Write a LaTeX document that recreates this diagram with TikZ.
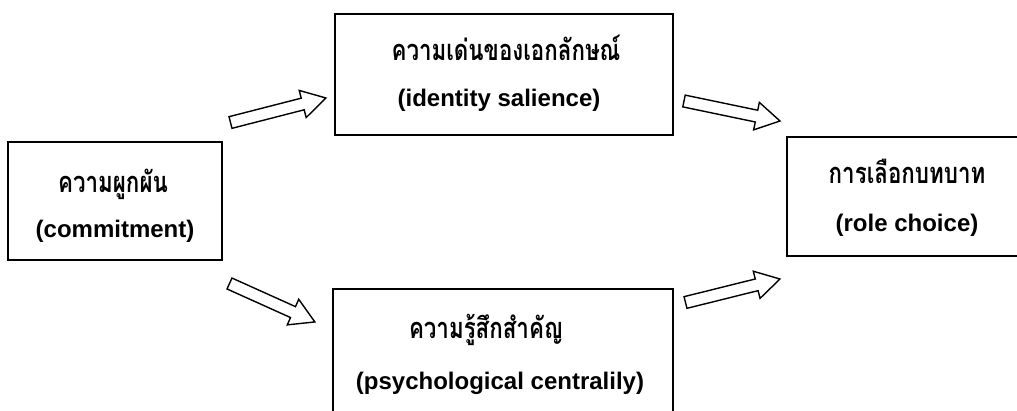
\documentclass[tikz,border=0pt]{standalone}
\usepackage{fontspec}
\setmainfont{Liberation Sans}
\newfontfamily\thaifont[Script=Thai, FakeStretch=0.77]{Loma}
\usetikzlibrary{calc}
\tikzset{
  box/.style={draw=black, line width=2.4pt, fill=white, inner sep=0pt, outer sep=0pt, anchor=north west},
  eng/.style={font=\fontsize{24}{28}\selectfont\bfseries, anchor=base, inner sep=0pt},
  th/.style={font=\fontsize{29}{33}\selectfont\thaifont\bfseries, anchor=base, inner sep=0pt},
  blockarr/.style={draw=black, line width=1.4pt, fill=white, line join=miter},
}
\newcommand\blockarrow[2]{%
  \draw[blockarr] let \p1=($(#2)-(#1)$), \n1={atan2(\y1,\x1)}, \n2={veclen(\x1,\y1)} in
    [shift={(#1)}, rotate=\n1]
    (0,-6) -- ({\n2-24},-6) -- ({\n2-24},-14) -- (\n2,0) -- ({\n2-24},14) -- ({\n2-24},6) -- (0,6) -- cycle;}
\begin{document}
\begin{tikzpicture}[x=1pt,y=-1pt]
\useasboundingbox (0,0) rectangle (1017,410);
\clip (0,0) rectangle (1017,410);
\fill[white] (0,0) rectangle (1017,410);
% boxes
\node[box, minimum width=214, minimum height=118] (b1) at (8,142) {};
\node[box, minimum width=338, minimum height=121] (b2) at (335,14) {};
\node[box, minimum width=340, minimum height=136] (b3) at (333,289) {};
\node[box, minimum width=240, minimum height=119] (b4) at (787,137) {};
% texts
\node[th]  (t1a) at (113,192) {ความผูกผัน};
\node[eng] (t1b) at (115,237) {(commitment)};
\node[th]  (t2a) at (506,60)  {ความเด่นของเอกลักษณ์};
\node[eng] (t2b) at (499,106) {(identity salience)};
\node[th]  (t3a) at (486,338) {ความรู้สึกสำคัญ};
\node[eng] (t3b) at (500,389) {(psychological centralily)};
\node[th]  (t4a) at (907,183) {การเลือกบทบาท};
\node[eng] (t4b) at (907,231) {(role choice)};
% arrow end points
\coordinate (a1s) at (230.5,122.5); \coordinate (a1e) at (326,98);
\coordinate (a2s) at (684,101);     \coordinate (a2e) at (780,121);
\coordinate (a3s) at (229.5,283.5); \coordinate (a3e) at (315,322);
\coordinate (a4s) at (685.5,302.5); \coordinate (a4e) at (780,279);
\blockarrow{a1s}{a1e}
\blockarrow{a2s}{a2e}
\blockarrow{a3s}{a3e}
\blockarrow{a4s}{a4e}
\end{tikzpicture}
\end{document}
